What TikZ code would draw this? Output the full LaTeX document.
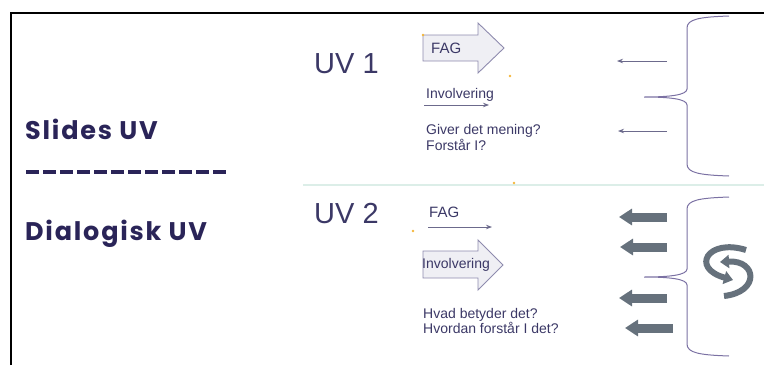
\documentclass[tikz,border=0pt]{standalone}
\usepackage{fontspec}
\setmainfont{Liberation Sans}
\newfontfamily\headfont[LetterSpace=7]{Poppins}
\usepackage{tikz}
\usetikzlibrary{arrows.meta, positioning}
\definecolor{headnavy}{HTML}{2A2458}
\definecolor{textnavy}{HTML}{3B3866}
\definecolor{bracepurple}{HTML}{7B71A3}
\definecolor{arrowgray}{HTML}{66717C}
\definecolor{fillgray}{HTML}{EFEFF4}
\definecolor{edgegray}{HTML}{8E8BAE}
\definecolor{rulemint}{HTML}{DCEEE8}
\definecolor{dotorange}{HTML}{F4B63A}

\begin{document}
\begin{tikzpicture}[x=1pt, y=-1pt,
  headtxt/.style={font=\headfont\bfseries\fontsize{25.5}{30}\selectfont, text=headnavy, inner sep=0pt, anchor=base west},
  uvtxt/.style={font=\fontsize{29}{34}\selectfont, text=textnavy, inner sep=0pt, anchor=base west},
  smalltxt/.style={font=\fontsize{14}{16}\selectfont, text=textnavy, inner sep=0pt, anchor=base west},
  fagtxt/.style={smalltxt, font=\fontsize{15}{18}\selectfont},
  blockarrow/.style={draw=edgegray, fill=fillgray, line width=0.9pt, line join=miter},
  thinarr/.style={-{Stealth[length=6pt, width=4.5pt]}, line width=0.8pt, draw=textnavy!75},
  fatarr/.style={-{Triangle[length=13pt, width=16pt]}, line width=9pt, arrowgray},
  bracket/.style={draw=bracepurple, line width=1pt},
  spin/.style={-{Triangle[length=9pt, width=13pt]}, line width=6pt, arrowgray},
  dot/.style={circle, fill=dotorange, inner sep=0pt, minimum size=2.6pt}
]
\useasboundingbox (0,0) rectangle (764,365);

% frame and separator
\draw[line width=2pt] (11,365) -- (11,12.5) -- (764,12.5);
\draw[rulemint, line width=2pt] (303,185) -- (764,185);

% left titles
\node[headtxt] (slides) at (25,139) {Slides UV};
\draw[headnavy, line width=3.5pt, dash pattern=on 13pt off 4pt] (26,172) -- (229,172);
\node[headtxt] (dialog) at (25,240) {Dialogisk UV};

% UV 1
\node[uvtxt] (uv1) at (314,73) {UV 1};
\draw[blockarrow] (423,35) -- (478,35) -- (478,23) -- (504,48) -- (478,73) -- (478,61) -- (423,61) -- cycle;
\node[fagtxt] (fagA) at (431,53.5) {FAG};
\node[smalltxt] (invA) at (426,98) {Involvering};
\coordinate (invA-s) at (424,105);
\coordinate (invA-e) at (489,105);
\draw[thinarr] (invA-s) -- (invA-e);
\node[smalltxt] (givA) at (426,134) {Giver det mening?};
\node[smalltxt] (forA) at (426,150) {Forstår I?};

\coordinate (rs1) at (667,61);
\coordinate (re1) at (617,61);
\coordinate (rs2) at (667,131);
\coordinate (re2) at (618,131);
\draw[thinarr] (rs1) -- (re1);
\draw[thinarr] (rs2) -- (re2);

% UV 2
\node[uvtxt] (uv2) at (314,223) {UV 2};
\node[fagtxt] (fagB) at (429,217) {FAG};
\coordinate (fagB-s) at (428,227);
\coordinate (fagB-e) at (492,227);
\draw[thinarr] (fagB-s) -- (fagB-e);
\draw[blockarrow] (423,251) -- (478,251) -- (478,240) -- (503,265) -- (478,290) -- (478,278) -- (423,278) -- cycle;
\node[smalltxt] (invB) at (422,268) {Involvering};
\node[smalltxt] (hvaB) at (423,318) {Hvad betyder det?};
\node[smalltxt] (hvoB) at (423,333) {Hvordan forstår I det?};

\foreach \i/\y/\xs/\xe in {1/217/667/619, 2/247/667/620, 3/298/667/619, 4/328/673/625} {
  \coordinate (gs\i) at (\xs,\y);
  \coordinate (ge\i) at (\xe,\y);
  \draw[fatarr] (gs\i) -- (ge\i);
}

% braces
\foreach \t/\m/\b in {16/97/176, 197/277/356} {
  \draw[bracket] (729,\t) .. controls (700,\t+1) and (687,\t+3) .. (687,\t+12) -- (687,\m-8)
    .. controls (687,\m-2) and (670,\m) .. (644,\m)
    .. controls (670,\m) and (687,\m+2) .. (687,\m+8) -- (687,\b-12)
    .. controls (687,\b-3) and (700,\b-1) .. (729,\b);
}

% turning arrows
\draw[spin] (746,250) .. controls (708,238) and (690,268) .. (733,280);
\draw[spin] (724,296) .. controls (760,292) and (757,260) .. (720,262);

% stray dots
\node[dot] (d1) at (423,35) {};
\node[dot] (d2) at (510,76) {};
\node[dot] (d3) at (514,183) {};
\node[dot] (d4) at (413,231) {};

\end{tikzpicture}
\end{document}
